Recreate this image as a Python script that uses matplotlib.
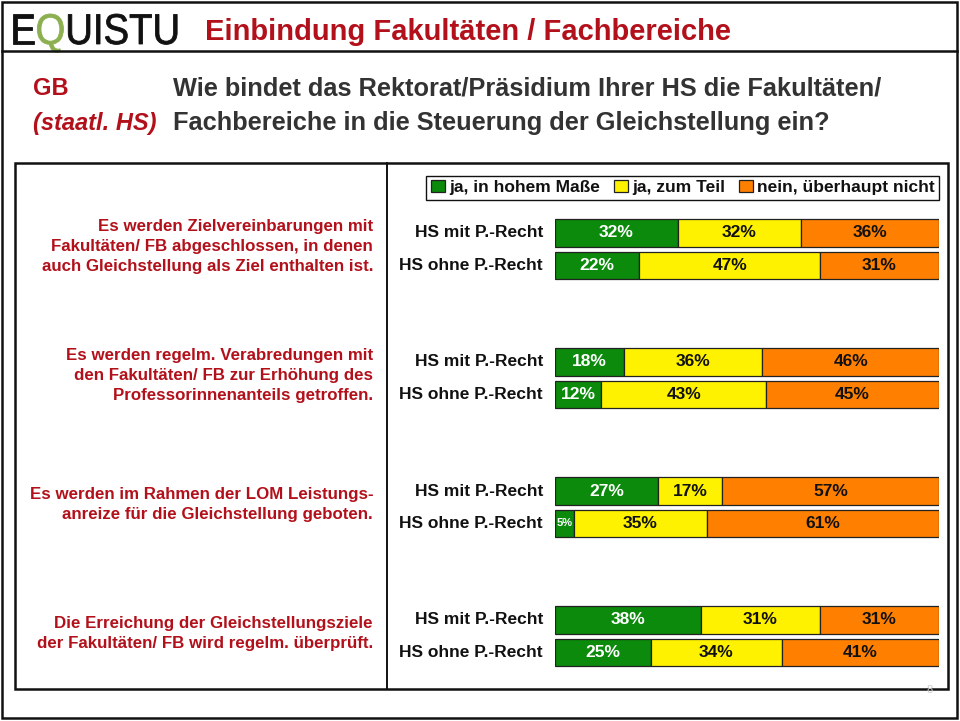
"""
Einbindung Fakultaeten / Fachbereiche - gestapelte Balken (EQUISTU)
"""

import numpy as np
import matplotlib
matplotlib.use('Agg')
import matplotlib.pyplot as plt
from matplotlib.patches import Rectangle, PathPatch
from matplotlib.lines import Line2D
from matplotlib.transforms import blended_transform_factory, Affine2D, IdentityTransform
from matplotlib.textpath import TextPath, TextToPath
from matplotlib.font_manager import FontProperties

plt.rcParams['font.family'] = ['Liberation Sans', 'DejaVu Sans']

# Daten
questions = [
    'Es werden Zielvereinbarungen mit\nFakultäten/ FB abgeschlossen, in denen\nauch Gleichstellung als Ziel enthalten ist.',
    'Es werden regelm. Verabredungen mit\nden Fakultäten/ FB zur Erhöhung des\nProfessorinnenanteils getroffen.',
    'Es werden im Rahmen der LOM Leistungs-\nanreize für die Gleichstellung geboten.',
    'Die Erreichung der Gleichstellungsziele\nder Fakultäten/ FB wird regelm. überprüft.',
]
row_labels = ['HS mit P.-Recht', 'HS ohne P.-Recht']
categories = ['ja, in hohem Maße', 'ja, zum Teil', 'nein, überhaupt nicht']

# pro Frage: [mit, ohne]
ja_hoch = [[32, 22], [18, 12], [27, 5], [38, 25]]
ja_teil = [[32, 47], [36, 43], [17, 35], [31, 34]]
nein = [[36, 31], [46, 45], [57, 61], [31, 41]]

colors = ['#0b8a0b', '#fff200', '#ff8000']
text_colors = ['white', '#111111', '#111111']
red = '#b2101a'
W, H = 960, 721

fig = plt.figure(figsize=(W / 100, H / 100), dpi=100)
fig.patch.set_facecolor('white')


def fx(px):
    return px / W


def fy(py):
    return 1 - py / H


# Rahmen
fig.add_artist(Rectangle((fx(2), fy(718)), fx(955), 716 / H, transform=fig.transFigure,
                         fill=False, lw=1.8, ec='#111111'))
fig.add_artist(Line2D([fx(2), fx(957)], [fy(51), fy(51)], transform=fig.transFigure,
                      lw=1.8, color='#111111'))
fig.add_artist(Rectangle((fx(15), fy(689)), fx(933), 526 / H, transform=fig.transFigure,
                         fill=False, lw=1.8, ec='#111111'))
fig.add_artist(Line2D([fx(387), fx(387)], [fy(163), fy(689)], transform=fig.transFigure,
                      lw=1.4, color='#111111'))

# Logo (schmal gestaucht, halbfett)
logo_prop = FontProperties(family='Liberation Sans', weight='normal', size=43)
t2p = TextToPath()
x0 = 10
squeeze = 0.89
for part, col in zip(['E', 'Q', 'UISTU'], ['#111111', '#8cb050', '#111111']):
    path = TextPath((0, 0), part, prop=logo_prop)
    tr = Affine2D().scale(squeeze, 1).translate(x0, H - 44) + IdentityTransform()
    fig.add_artist(PathPatch(path, transform=tr, fc=col, ec=col, lw=0.6))
    w, _, _ = t2p.get_text_width_height_descent(part, logo_prop, ismath=False)
    x0 += w * squeeze

fig.text(fx(205), fy(40), 'Einbindung Fakultäten / Fachbereiche', color=red,
         fontsize=21, fontweight='bold', va='baseline')

fig.text(fx(33), fy(95), 'GB', color=red, fontsize=17, fontweight='bold', va='baseline')
fig.text(fx(33), fy(130), '(staatl. HS)', color=red, fontsize=17, fontweight='bold',
         style='italic', va='baseline')
fig.text(fx(173), fy(95), 'Wie bindet das Rektorat/Präsidium Ihrer HS die Fakultäten/',
         color='#333333', fontsize=18.3, fontweight='bold', va='baseline')
fig.text(fx(173), fy(130), 'Fachbereiche in die Steuerung der Gleichstellung ein?',
         color='#333333', fontsize=18.3, fontweight='bold', va='baseline')

# Balken
row_px = 32.25
first_px = 233
top_px, bot_px = 205, 680
ax = fig.add_axes([fx(555), fy(bot_px), fx(939 - 555), (bot_px - top_px) / H])
ax.set_xlim(0, 100)
ax.set_ylim((bot_px - first_px) / row_px, (top_px - first_px) / row_px)
ax.axis('off')

values = np.array([ja_hoch, ja_teil, nein], dtype=float)  # (kat, frage, zeile)
totals = values.sum(axis=0)
widths = values / totals * 100

n_q = len(questions)
ypos = np.array([[g * 4 + rr for rr in range(2)] for g in range(n_q)])

left = np.zeros((n_q, 2))
handles = []
for k in range(3):
    bars = ax.barh(ypos.ravel(), widths[k].ravel(), left=left.ravel(), height=0.84,
                   color=colors[k], edgecolor='#222222', linewidth=0.9, label=categories[k])
    handles.append(bars)
    for g in range(n_q):
        for rr in range(2):
            v = values[k, g, rr]
            cx = left[g, rr] + widths[k, g, rr] / 2
            fs = 8 if v < 10 else 12.5
            ax.text(cx, ypos[g, rr], f'{v:.0f}%', ha='center', va='center',
                    color=text_colors[k], fontsize=fs, fontweight='bold')
    left += widths[k]

trans_q = blended_transform_factory(fig.transFigure, ax.transData)
for g in range(n_q):
    for rr in range(2):
        ax.text(-3.1, ypos[g, rr], row_labels[rr], ha='right', va='center',
                fontsize=12.5, fontweight='bold', color='#111111')
    fig.text(fx(373), g * 4 + 0.42, questions[g], transform=trans_q, ha='right', va='center',
             multialignment='right', color=red, fontsize=12.2, fontweight='bold', linespacing=1.4)

leg = fig.legend(handles=handles, labels=categories, loc='upper right',
                 bbox_to_anchor=(fx(939), fy(176)), ncol=3, frameon=True, fancybox=False,
                 edgecolor='#111111', framealpha=1, prop={'size': 12.5, 'weight': 'bold'},
                 handlelength=0.85, handleheight=0.65, handletextpad=0.2, columnspacing=0.8,
                 borderpad=0.25, borderaxespad=0)
for txt in leg.get_texts():
    txt.set_color('#111111')

fig.text(fx(930), fy(690), '8', color='#cccccc', fontsize=8, ha='center', va='center')

fig.savefig('out.png', dpi=100)
